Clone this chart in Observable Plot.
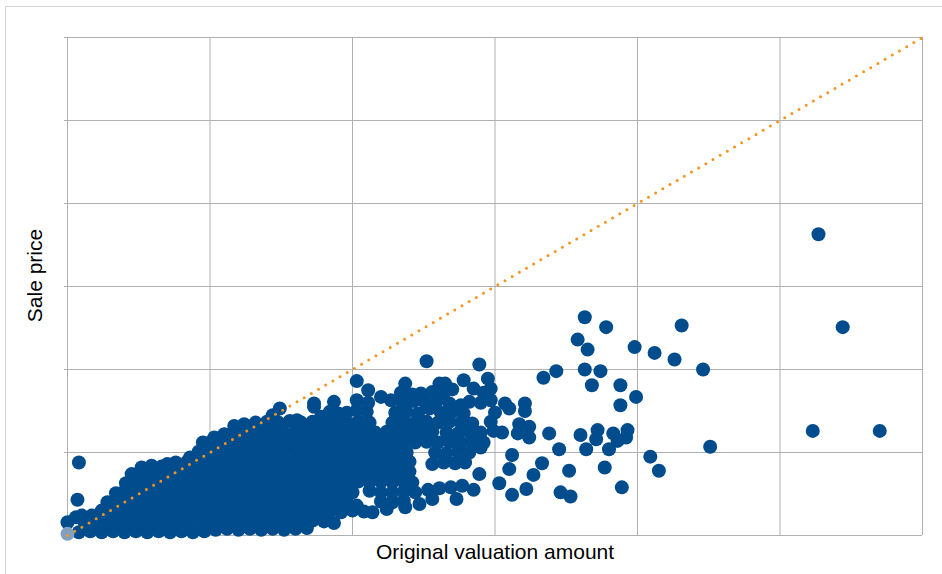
<!DOCTYPE html>
<html>
<head>
<meta charset="utf-8">
<script src="https://cdn.jsdelivr.net/npm/d3@7"></script>
<script src="https://cdn.jsdelivr.net/npm/@observablehq/plot@0.6"></script>
<style>
  body { margin: 0; background: #fff; }
  #wrap { position: relative; width: 942px; height: 574px; }
  #border { position: absolute; left: 5px; top: 6px; width: 945px; height: 575px;
            border-left: 1px solid #d6d6d6; border-top: 1px solid #d6d6d6; pointer-events: none; }
</style>
</head>
<body>
<div id="wrap"><div id="border"></div></div>
<script>
// Values in thousands (valuation, sale price)
const gridTicks = [0, 100, 200, 300, 400, 500, 600];
const xLabel = "Original valuation amount";
const yLabel = "Sale price";

const lowerBand = [
  [8,4],[16,5],[24,4],[32,5],[40,4],[48,5],[56,4],[64,5],[72,4],[80,5],[88,4],[96,5],[104,7],[112,8],[120,7],[128,8],[136,7],[144,8],[152,7],[160,8],[168,9],
  [0,16],[12,16],[20,17],[28,16],[36,17],[44,16],[52,17],[60,16],[68,17],[76,16],[84,17],[92,16],[100,17],[108,18],[116,17],[124,18],[132,17],[140,18],[148,17],[156,18],[164,17],[172,18],[180,17],[187,15],
  [6,22],[10,24],[17,24],[24,30],[32,28],[40,29],[48,28],[56,29],[64,28],[72,29],[80,28],[88,29],[96,28],[104,29],[112,28],[120,29],[128,28],[136,29],[144,28],[152,29],[160,28],[168,29],[176,28],[184,29],[192,28],[200,30],[208,29],[214,28],[224,32],[237,34],
  [28,40],[36,41],[44,40],[52,41],[60,40],[68,41],[76,40],[84,41],[92,40],[100,41],[108,40],[116,41],[124,40],[132,41],[140,40],[148,41],[156,40],[164,41],[172,40],[180,41],[188,40],[196,40],[203,36],[220,41],[228,40],[236,42],[247,38],[256,44],[273,44]
];

const middleBand = [
  [34,51],[40,53],[48,52],[56,53],[64,52],[72,53],[80,52],[88,53],[96,52],[104,53],[112,52],[120,53],[128,52],[136,53],[144,52],[152,53],[160,52],[168,53],[176,52],[184,53],[192,52],[200,52],[212,54],[220,52],[228,52],[236,53],[244,52],[253,55],[261,57],[269,58],[277,60],[285,55],
  [41,63],[46,65],[52,64],[60,65],[68,64],[76,65],[84,64],[92,65],[100,64],[108,65],[116,64],[124,65],[132,64],[140,65],[148,64],[156,65],[164,64],[172,65],[180,64],[188,65],[196,64],[204,65],[212,64],[220,65],[228,64],[236,65],[242,64],
  [45,74],[52,77],[56,76],[64,77],[72,76],[80,77],[88,76],[96,77],[104,76],[112,77],[120,76],[128,77],[136,76],[144,77],[152,76],[160,77],[168,76],[176,77],[184,76],[192,77],[200,76],[208,77],[216,76],[224,77],[232,76],[240,77],[289,74],
  [52,82],[59,84],[66,83],[70,86],[76,88],[84,89],[92,88],[100,89],[108,88],[116,89],[124,88],[132,89],[140,88],[148,89],[156,88],[164,89],[172,88],[180,89],[188,88],[196,89],[204,88],[212,89],[220,88],[228,89],[236,88],[240,89],[256,86],[264,88],[272,87],[279,88],
  [86,94],[92,101],[96,100],[104,101],[112,100],[120,101],[128,100],[136,101],[144,100],[152,101],[160,100],[168,101],[176,100],[184,101],[192,100],[200,101],[208,100],[216,101],[224,100],[232,101],[238,100],[258,100],[266,99],[274,101],[282,100],[290,106]
];

const upperBand = [
  [95,112],[100,112],[108,113],[116,112],[124,113],[132,112],[140,113],[148,112],[156,113],[164,112],[172,113],[180,112],[188,113],[196,112],[204,113],[212,112],[220,113],[228,112],[236,113],[244,112],[252,113],[260,112],[268,113],[276,112],[284,113],[292,112],
  [103,118],[110,122],[117,126],[120,124],[128,125],[136,124],[144,125],[152,124],[160,125],[168,124],[176,125],[184,124],[192,125],[200,124],[208,125],[216,124],[224,125],[232,124],[240,125],[248,124],[256,125],[266,124],[274,123],[282,125],[290,124],[299,126],
  [117,132],[124,134],[132,136],[140,137],[148,136],[156,138],[161,139],[164,136],[172,137],[180,136],[188,137],[196,136],[204,137],[212,136],[228,136],[236,137],[244,136],[252,137],[260,136],[268,137],[276,136],[284,135],[297,137],
  [144,145],[149,153],[173,155],[178,143],[184,149],[190,147],[196,148],[203,151],[210,149],[230,148],[238,149],[246,147],[254,153],[262,148],[270,149],[278,147],[300,148],
  [173,159],[187,161],[203,163],[211,160],[227,163],[235,160],[243,162],[251,160],[259,161],[268,159],[276,157],[282,161],[290,160],[297,163],
  [211,175],[220,167],[234,172],[242,170],[248,171],[256,173],[264,171],[270,176],[285,177],[292,172],[297,177],
  [203,186],[237,183],[261,183],[265,183],[278,187],[295,189],[252,210],[289,206]
];

const highValue = [
  [305,124],[307,159],[310,153],[321,159],[321,150],[317,134],[324,131],[316,123],[324,118],[338,123],
  [312,97],[310,80],[333,87],[327,73],[303,63],[322,56],[312,49],[346,52],[353,47],
  [334,190],[343,198],[363,200],[374,198],[368,181],[388,181],[399,167],[388,157],
  [363,263],[378,251],[358,236],[365,224],[398,227],[412,220],[426,212],[446,200],[431,253],
  [360,121],[372,127],[371,116],[383,123],[393,127],[392,118],[386,114],
  [345,104],[364,104],[380,104],[409,95],[415,78],[352,78],[377,82],[389,58],[451,107]
];

const outliers = [[527,363],[544,251],[523,126],[570,126],[8,88],[7,43]];
const firstSale = [[0,2]];
const refLine = [[0,0],[600,600]];

const sales = [...lowerBand, ...middleBand, ...upperBand, ...highValue, ...outliers];

const chart = Plot.plot({
  width: 942,
  height: 574,
  marginLeft: 67,
  marginRight: 20,
  marginTop: 37,
  marginBottom: 39,
  style: { fontFamily: "'Liberation Sans', Arial, sans-serif", background: "white" },
  x: { domain: [0, 600], axis: null },
  y: { domain: [0, 600], axis: null },
  marks: [
    Plot.gridX(gridTicks, { stroke: "#b0b0b0", strokeOpacity: 1, strokeWidth: 1 }),
    Plot.gridY(gridTicks, { stroke: "#b0b0b0", strokeOpacity: 1, strokeWidth: 1 }),
    Plot.axisY(gridTicks, { tickSize: 3, tickFormat: () => "", stroke: "#b0b0b0", label: null }),
    Plot.dot(sales, { x: d => d[0], y: d => d[1], r: 7, fill: "#004c8c", stroke: "none" }),
    Plot.dot(firstSale, { x: d => d[0], y: d => d[1], r: 7, fill: "#80a0c2", stroke: "none" }),
    Plot.line(refLine, { x: d => d[0], y: d => d[1], stroke: "#f7941d", strokeWidth: 3,
      strokeDasharray: "0 8.3", strokeLinecap: "round" }),
    Plot.text([xLabel], { frameAnchor: "bottom", lineAnchor: "middle", textAnchor: "middle", dy: 17, fontSize: 21, fill: "#000" }),
    Plot.text([yLabel], { frameAnchor: "left", lineAnchor: "middle", textAnchor: "middle", rotate: -90, dx: -32, dy: -11, fontSize: 21, fill: "#000" })
  ]
});

document.getElementById("wrap").prepend(chart);
</script>
</body>
</html>
